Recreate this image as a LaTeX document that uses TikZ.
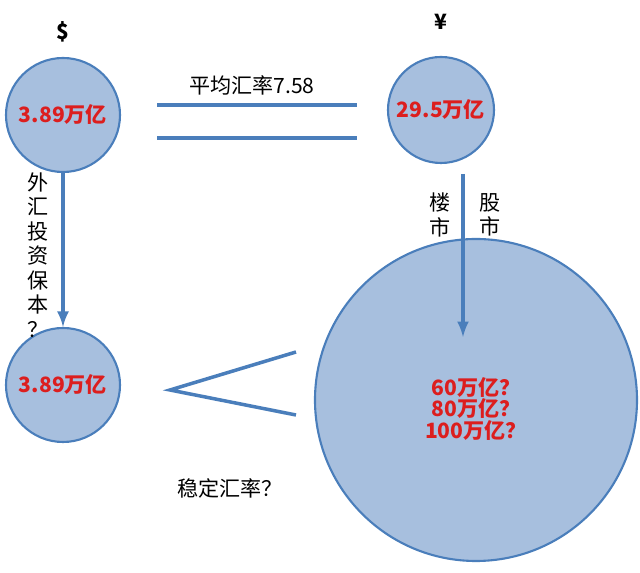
\documentclass[tikz,border=0pt]{standalone}
\usepackage{fontspec}
\setmainfont{Noto Sans CJK SC}
\usepackage{tikz}
\definecolor{ballfill}{RGB}{167,191,222}
\definecolor{balledge}{RGB}{74,126,187}
\definecolor{sumred}{RGB}{220,30,30}
\tikzset{
  ball/.style={circle,draw=balledge,fill=ballfill,line width=1.2pt,inner sep=0pt},
  sum/.style={text=sumred,font=\bfseries\large},
  bar/.style={draw=balledge,line width=2pt},
  flow/.style={draw=balledge,line width=2pt,-latex}
}
\begin{document}
\begin{tikzpicture}[x=0.02cm,y=-0.02cm]
\useasboundingbox (0,0) rectangle (640,573);
\node[ball,minimum size=114*0.02cm] (usd) at (63,115) {};
\node[sum] at (usd) {3.89万亿};
\node[ball,minimum size=106*0.02cm] (rmb) at (441,110) {};
\node[sum] at (rmb) {29.5万亿};
\node[ball,minimum size=114*0.02cm] (usdb) at (63,385) {};
\node[sum] at (usdb) {3.89万亿};
\node[ball,minimum size=322*0.02cm] (rmbb) at (476,400) {};
\node[sum,align=center] (m2) at (476,409) {60万亿？\\[-2pt]80万亿？\\[-2pt]100万亿？};
\node[font=\bfseries\large] (usdsign) at (63,32) {\$};
\node[font=\bfseries\large] (rmbsign) at (441,22) {¥};
% equal rate
\coordinate (e1) at (157,105); \coordinate (e2) at (357,105);
\coordinate (e3) at (157,138); \coordinate (e4) at (357,138);
\draw[bar] (e1) -- (e2);
\draw[bar] (e3) -- (e4);
\node[font=\large] (rate) at (252,85) {平均汇率7.58};
% flows
\draw[flow] (usd) -- (usdb);
\node[font=\large,align=center,inner sep=0pt] (safe) at (38,255) {外\\汇\\投\\资\\保\\本\\？};
\coordinate (r1) at (463,174); \coordinate (r2) at (463,337);
\draw[flow] (r1) -- (r2);
\node[font=\large,align=center,inner sep=0pt] (house) at (440,215) {楼\\市};
\node[font=\large,align=center,inner sep=0pt] (stock) at (490,215) {股\\市};
% less than
\coordinate (l1) at (296,352); \coordinate (l2) at (170,390); \coordinate (l3) at (296,415);
\draw[bar] (l1) -- (l2) -- (l3);
\node[font=\large] (steady) at (230,488) {稳定汇率？};
\end{tikzpicture}
\end{document}
